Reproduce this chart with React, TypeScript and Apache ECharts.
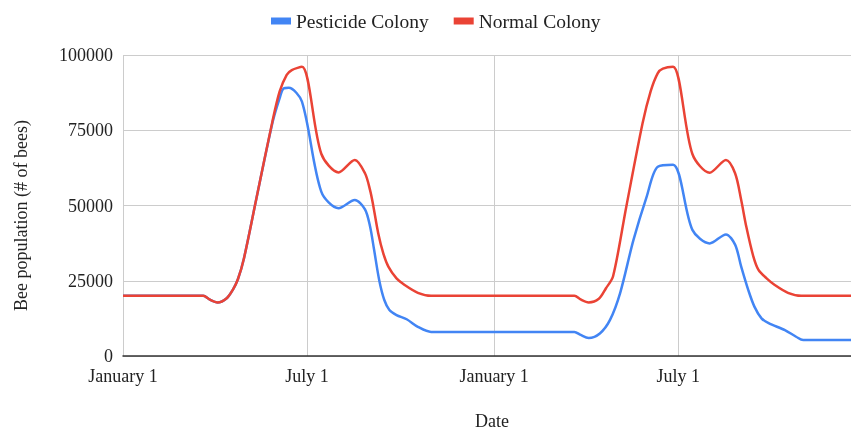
import React, { useEffect, useRef } from "react";
import * as echarts from "echarts";

const tickDates = ["2021-01-01", "2021-07-01", "2022-01-01", "2022-07-01"];
const tickLabels = ["January 1", "July 1", "January 1", "July 1"];
const xStart = "2021-01-01";
const xEnd = "2022-12-18";

const pesticideDates = [
  "2021-01-01", "2021-03-21", "2021-03-27", "2021-04-04", "2021-04-13", "2021-04-19",
  "2021-04-24", "2021-04-30", "2021-05-12", "2021-05-28", "2021-06-04", "2021-06-08",
  "2021-06-13", "2021-06-26", "2021-07-15", "2021-08-01", "2021-08-17", "2021-08-27",
  "2021-09-01", "2021-09-05", "2021-09-10", "2021-09-15", "2021-09-20", "2021-09-27",
  "2021-10-07", "2021-10-18", "2021-10-31", "2022-03-21", "2022-03-27", "2022-04-04",
  "2022-04-15", "2022-04-25", "2022-05-05", "2022-05-18", "2022-05-31", "2022-06-11",
  "2022-06-26", "2022-07-15", "2022-08-01", "2022-08-17", "2022-08-26", "2022-09-01",
  "2022-09-08", "2022-09-14", "2022-09-21", "2022-09-28", "2022-10-14", "2022-10-25",
  "2022-11-01", "2022-12-18",
];
const pesticideValues = [
  20000, 20000, 18800, 17800, 19200, 22000,
  25500, 32500, 52000, 77500, 85600, 88900,
  89100, 84500, 54600, 49100, 51800, 48700,
  43000, 35200, 25200, 18600, 15300, 13600,
  12200, 9700, 8000, 8000, 7000, 6000,
  7500, 12000, 21000, 38500, 52900, 62900,
  63500, 41900, 37400, 40400, 37000, 29700,
  21900, 16400, 12500, 10900, 8600, 6400,
  5300, 5300,
];

const normalDates = [
  "2021-01-01", "2021-03-21", "2021-03-27", "2021-04-04", "2021-04-13", "2021-04-19",
  "2021-04-24", "2021-04-30", "2021-05-12", "2021-05-28", "2021-06-04", "2021-06-11",
  "2021-06-16", "2021-06-26", "2021-07-15", "2021-08-01", "2021-08-17", "2021-08-27",
  "2021-09-01", "2021-09-04", "2021-09-09", "2021-09-14", "2021-09-19", "2021-09-27",
  "2021-10-05", "2021-10-18", "2021-10-31", "2022-03-21", "2022-03-27", "2022-04-04",
  "2022-04-14", "2022-04-21", "2022-04-28", "2022-05-11", "2022-05-27", "2022-06-04",
  "2022-06-11", "2022-06-16", "2022-06-26", "2022-07-15", "2022-08-01", "2022-08-17",
  "2022-08-26", "2022-09-01", "2022-09-06", "2022-09-13", "2022-09-18", "2022-09-26",
  "2022-10-04", "2022-10-17", "2022-10-30", "2022-12-18",
];
const normalValues = [
  20000, 20000, 18800, 17800, 19200, 22000,
  25500, 32500, 52000, 78000, 87800, 93400,
  95000, 96100, 67200, 61000, 65100, 60700,
  55100, 50200, 40800, 34100, 29700, 25800,
  23600, 21000, 20000, 20000, 18800, 17800,
  19000, 22500, 26500, 49600, 77300, 88000,
  94000, 95500, 96100, 67100, 60900, 65100,
  60700, 51800, 43000, 33000, 28600, 25800,
  23600, 21000, 20000, 20000,
];

const toUTC = (s: string) => {
  const [y, m, d] = s.split("-").map(Number);
  return Date.UTC(y, m - 1, d);
};

const FONT = "'Liberation Serif', 'Times New Roman', serif";

export default function App() {
  const ref = useRef<HTMLDivElement>(null);
  useEffect(() => {
    if (!ref.current) return;
    const chart = echarts.init(ref.current, undefined, { renderer: "svg" });
    const tickTimes = tickDates.map(toUTC);
    chart.setOption({
      animation: false,
      color: ["#4285F4", "#EA4335"],
      legend: {
        top: 6,
        left: 266,
        icon: "rect",
        itemWidth: 20,
        itemHeight: 7,
        itemGap: 25,
        textStyle: { fontFamily: FONT, fontSize: 19.5, color: "#222" },
        data: ["Pesticide Colony", "Normal Colony"],
      },
      grid: {
        left: 123,
        right: 0,
        top: 55,
        bottom: 74,
        containLabel: false,
        outerBoundsMode: "none",
      },
      xAxis: {
        type: "value",
        min: toUTC(xStart),
        max: toUTC(xEnd),
        name: "Date",
        nameLocation: "middle",
        nameGap: 56,
        nameTextStyle: {
          fontFamily: FONT,
          fontSize: 18,
          color: "#222",
          padding: [0, 0, 0, 10],
        },
        axisLine: { show: true, lineStyle: { color: "#333", width: 1.5 } },
        axisTick: { show: false, customValues: tickTimes },
        axisLabel: {
          customValues: tickTimes,
          margin: 11,
          fontFamily: FONT,
          fontSize: 18,
          color: "#222",
          formatter: (v: number) => {
            const i = tickTimes.indexOf(v);
            return i >= 0 ? tickLabels[i] : "";
          },
        },
        splitLine: { show: true, lineStyle: { color: "#ccc", width: 1 } },
      },
      yAxis: {
        type: "value",
        min: 0,
        max: 100000,
        interval: 25000,
        name: "Bee population (# of bees)",
        nameLocation: "middle",
        nameGap: 93,
        nameTextStyle: {
          fontFamily: FONT,
          fontSize: 18,
          color: "#222",
          padding: [0, 20, 0, 0],
        },
        axisLine: { show: false },
        axisTick: { show: false },
        axisLabel: {
          margin: 10,
          fontFamily: FONT,
          fontSize: 18,
          color: "#222",
          formatter: (v: number) => String(v),
        },
        splitLine: { show: true, lineStyle: { color: "#ccc", width: 1 } },
      },
      series: [
        {
          name: "Pesticide Colony",
          type: "line",
          showSymbol: false,
          smooth: 0.3,
          lineStyle: { width: 2.5 },
          data: pesticideDates.map((d, i) => [toUTC(d), pesticideValues[i]]),
        },
        {
          name: "Normal Colony",
          type: "line",
          showSymbol: false,
          smooth: 0.3,
          lineStyle: { width: 2.5 },
          data: normalDates.map((d, i) => [toUTC(d), normalValues[i]]),
        },
      ],
    });
    return () => chart.dispose();
  }, []);
  return (
    <div
      ref={ref}
      style={{ position: "fixed", left: 0, top: 0, width: 851, height: 430 }}
    />
  );
}
